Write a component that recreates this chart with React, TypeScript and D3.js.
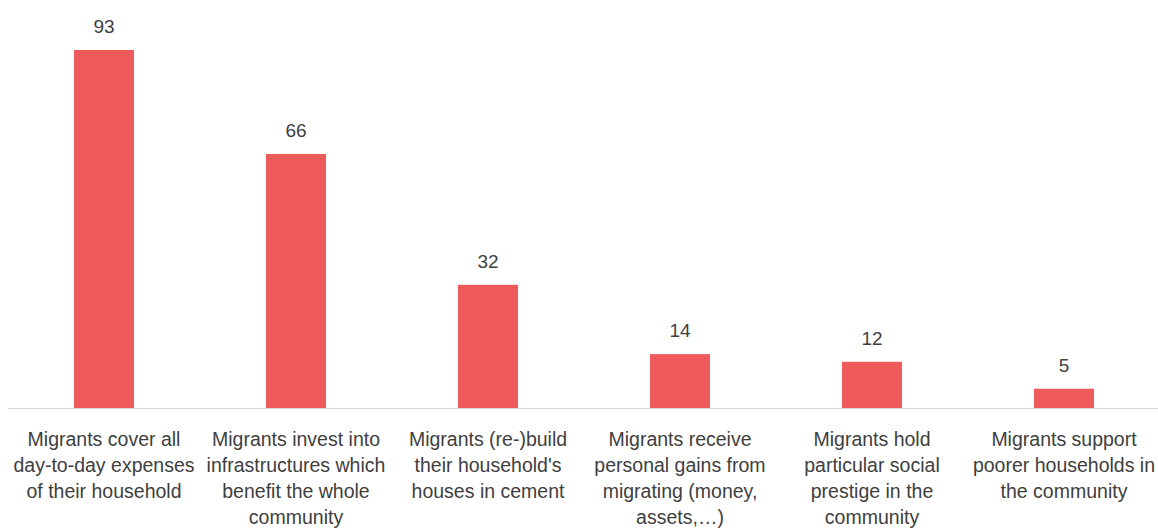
import React from "react";
import * as d3 from "d3";

const categories: string[][] = [
  ["Migrants cover all", "day-to-day expenses", "of their household"],
  ["Migrants invest into", "infrastructures which", "benefit the whole", "community"],
  ["Migrants (re-)build", "their household's", "houses in cement"],
  ["Migrants receive", "personal gains from", "migrating (money,", "assets,…)"],
  ["Migrants hold", "particular social", "prestige in the", "community"],
  ["Migrants support", "poorer households in", "the community"],
];
const values: number[] = [93, 66, 32, 14, 12, 5];

const W = 1158;
const H = 529;

export default function App() {
  const ids = categories.map((_, i) => String(i));
  const x = d3
    .scaleBand<string>()
    .domain(ids)
    .range([8, 1160])
    .paddingInner(0.6875)
    .paddingOuter(0.34375);
  const y = d3.scaleLinear().domain([0, 93]).range([408, 50]);
  const font = "'Liberation Sans', Arial, sans-serif";
  const textColor = "#404040";
  return (
    <svg
      width={W}
      height={H}
      style={{ position: "absolute", left: 0, top: 0, background: "#fff" }}
    >
      {values.map((v, i) => (
        <g key={i}>
          <rect
            x={x(ids[i])}
            y={y(v)}
            width={x.bandwidth()}
            height={y(0) - y(v)}
            fill="#EF5A5B"
          />
          <text
            x={(x(ids[i]) as number) + x.bandwidth() / 2}
            y={y(v) - 17}
            textAnchor="middle"
            fontFamily={font}
            fontSize={19}
            fill={textColor}
          >
            {v}
          </text>
        </g>
      ))}
      <line x1={8} x2={W} y1={408.5} y2={408.5} stroke="#d9d9d9" strokeWidth={1} />
      {categories.map((lines, i) => (
        <text
          key={i}
          textAnchor="middle"
          fontFamily={font}
          fontSize={19.5}
          fill={textColor}
        >
          {lines.map((l, j) => (
            <tspan
              key={j}
              x={(x(ids[i]) as number) + x.bandwidth() / 2}
              y={446 + j * 26}
            >
              {l}
            </tspan>
          ))}
        </text>
      ))}
    </svg>
  );
}
